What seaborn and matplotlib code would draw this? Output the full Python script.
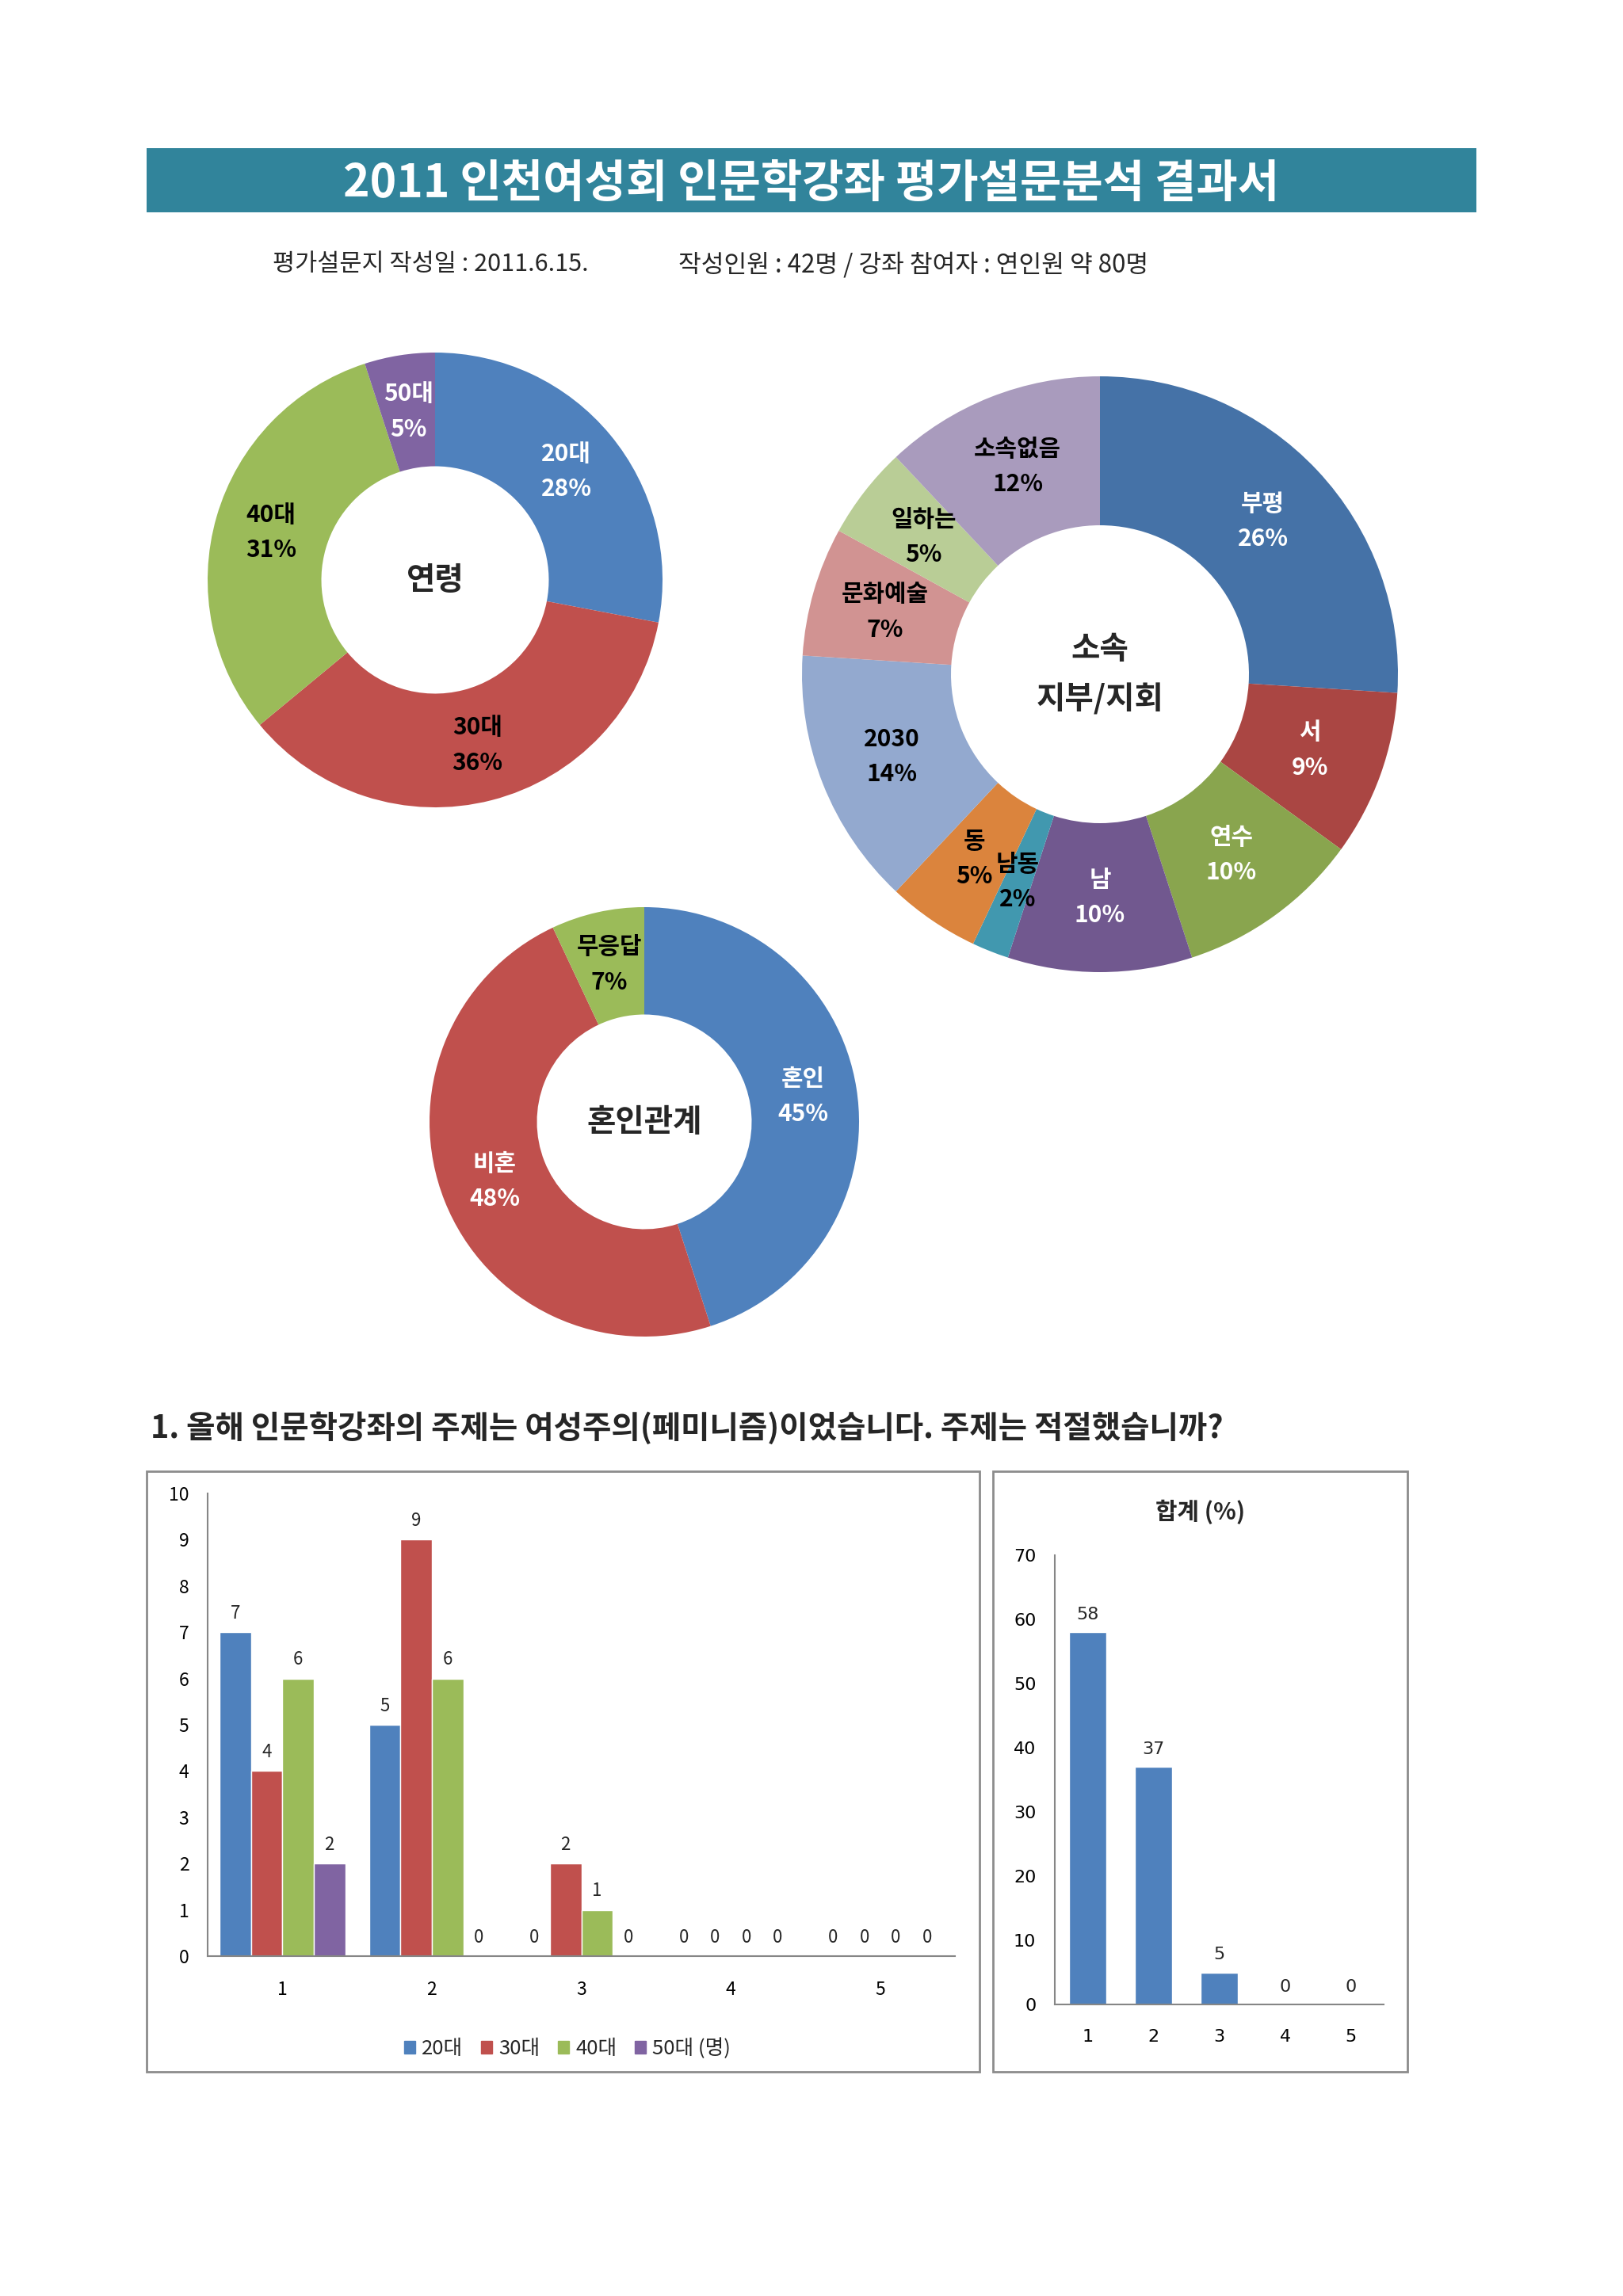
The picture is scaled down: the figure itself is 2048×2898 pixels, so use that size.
import numpy as np
import pandas as pd
import matplotlib
matplotlib.use('Agg')
import matplotlib.pyplot as plt
from matplotlib.patches import Rectangle, Patch
import seaborn as sns

# ---- data ----
age_labels = ['20대', '30대', '40대', '50대']
age_pct = [28, 36, 31, 5]
age_colors = ['#4F81BD', '#C0504D', '#9BBB59', '#8064A2']
age_txt = ['white', 'black', 'black', 'white']

branch_labels = ['부평', '서', '연수', '남', '남동', '동', '2030', '문화예술', '일하는', '소속없음']
branch_pct = [26, 9, 10, 10, 2, 5, 14, 7, 5, 12]
branch_colors = ['#4572A7', '#AA4643', '#89A54E', '#71588F', '#4198AF',
                 '#DB843D', '#93A9CF', '#D19392', '#B9CD96', '#A99BBD']
branch_txt = ['white', 'white', 'white', 'white', 'black',
              'black', 'black', 'black', 'black', 'black']

marry_labels = ['혼인', '비혼', '무응답']
marry_pct = [45, 48, 7]
marry_colors = ['#4F81BD', '#C0504D', '#9BBB59']
marry_txt = ['white', 'white', 'black']

answers = ['1', '2', '3', '4', '5']
q1_20 = [7, 5, 0, 0, 0]
q1_30 = [4, 9, 2, 0, 0]
q1_40 = [6, 6, 1, 0, 0]
q1_50 = [2, 0, 0, 0, 0]
legend_labels = ['20대', '30대', '40대', '50대 (명)']
q1_total = [58, 37, 5, 0, 0]

title = '2011 인천여성회 인문학강좌 평가설문분석 결과서'
sub1 = '평가설문지 작성일 : 2011.6.15.'
sub2 = '작성인원 : 42명 / 강좌 참여자 : 연인원 약 80명'
question = '1. 올해 인문학강좌의 주제는 여성주의(페미니즘)이었습니다. 주제는 적절했습니까?'

# ---- setup ----
sns.set_theme(style='white')
plt.rcParams['font.family'] = ['Noto Sans CJK KR', 'DejaVu Sans']
NARROW = ['Liberation Sans Narrow', 'Noto Sans CJK KR', 'DejaVu Sans']
WIDE = ['DejaVu Sans', 'Noto Sans CJK KR']

W, H = 2048, 2898
fig = plt.figure(figsize=(W / 100, H / 100), dpi=100)
fig.patch.set_facecolor('white')


def fx(px):
    return px / W


def fy(py):
    return 1 - py / H


def box(x0, y0, x1, y1):
    return [x0 / W, 1 - y1 / H, (x1 - x0) / W, (y1 - y0) / H]


# title bar
fig.add_artist(Rectangle((fx(185), fy(268)), (1863 - 185) / W, (268 - 187) / H,
                         transform=fig.transFigure, facecolor='#31849B', edgecolor='none'))
fig.text(fx(1024), fy(232), title, color='white', fontsize=41, fontweight='bold',
         ha='center', va='center')
fig.text(fx(344), fy(334), sub1, fontsize=22, ha='left', va='center')
fig.text(fx(856), fy(334), sub2, fontsize=22.5, ha='left', va='center')


# ---- donuts ----
def donut(cx, cy, r, values, labels, colors, txt_colors, center_text, lab_fs=21.5):
    ax = fig.add_axes(box(cx - r, cy - r, cx + r, cy + r))
    wedges, _ = ax.pie(values, colors=colors, startangle=90, counterclock=False,
                       radius=1, wedgeprops=dict(width=0.5, edgecolor='none'))
    ax.set_xlim(-1, 1)
    ax.set_ylim(-1, 1)
    ax.set_aspect('equal')
    ax.axis('off')
    for w, lab, v, c in zip(wedges, labels, values, txt_colors):
        ang = np.deg2rad((w.theta1 + w.theta2) / 2)
        ax.text(0.75 * np.cos(ang), 0.75 * np.sin(ang), f'{lab}\n{v}%',
                ha='center', va='center', color=c, fontsize=lab_fs,
                fontweight='bold', linespacing=1.6)
    ax.text(0, 0, center_text, ha='center', va='center', fontsize=28.5,
            fontweight='bold', linespacing=1.7)
    return ax


donut(549, 732, 287, age_pct, age_labels, age_colors, age_txt, '연령')
donut(1388, 851, 376, branch_pct, branch_labels, branch_colors, branch_txt, '소속\n지부/지회')
donut(813, 1416, 271, marry_pct, marry_labels, marry_colors, marry_txt, '혼인관계')

# ---- question heading ----
fig.text(fx(190), fy(1803), question, fontsize=28.5, fontweight='bold', ha='left', va='center')

# frames
for x0, x1 in [(185, 1236), (1253, 1776)]:
    fig.add_artist(Rectangle((fx(x0), fy(2615)), (x1 - x0) / W, (2615 - 1857) / H,
                             transform=fig.transFigure, fill=False,
                             edgecolor='#8C8C8C', lw=2))


def style_axes(ax, fam, fs):
    sns.despine(ax=ax)
    for s in ['left', 'bottom']:
        ax.spines[s].set_color('#868686')
        ax.spines[s].set_linewidth(1.5)
    ax.tick_params(length=0, labelsize=fs, colors='black')
    ax.tick_params(axis='y', pad=17)
    ax.tick_params(axis='x', pad=22)
    for t in ax.get_xticklabels() + ax.get_yticklabels():
        t.set_family(fam)
    ax.set_xlabel('')
    ax.set_ylabel('')
    ax.set_facecolor('none')


# ---- bar chart: by age ----
df = pd.DataFrame({
    '답': answers * 4,
    '연령대': np.repeat(age_labels, len(answers)),
    '명': q1_20 + q1_30 + q1_40 + q1_50,
})
ax1 = fig.add_axes(box(262, 1885, 1205, 2469))
sns.barplot(data=df, x='답', y='명', hue='연령대', palette=age_colors, width=0.84,
            saturation=1, legend=False, ax=ax1)
ax1.set_ylim(0, 10)
ax1.set_yticks(range(0, 11))
ax1.set_xlim(-0.5, 4.5)
style_axes(ax1, NARROW, 16.5)
for cont in ax1.containers:
    ax1.bar_label(cont, fmt='%d', padding=9, fontsize=16, family=NARROW)
ax1.legend(handles=[Patch(color=c) for c in age_colors], labels=legend_labels,
           loc='center', bbox_to_anchor=(fx(716), fy(2586)), bbox_transform=fig.transFigure,
           ncol=4, frameon=False, handlelength=0.55, handleheight=0.55, handletextpad=0.3,
           columnspacing=0.9, prop={'family': NARROW, 'size': 18.5})

# ---- bar chart: total % ----
tot = pd.DataFrame({'답': answers, '합계': q1_total})
ax2 = fig.add_axes(box(1331, 1963, 1746, 2530))
sns.barplot(data=tot, x='답', y='합계', color='#4F81BD', width=0.57, saturation=1, ax=ax2)
ax2.set_ylim(0, 70)
ax2.set_yticks(range(0, 71, 10))
ax2.set_xlim(-0.5, 4.5)
style_axes(ax2, WIDE, 16)
for cont in ax2.containers:
    ax2.bar_label(cont, fmt='%d', padding=9, fontsize=16, family=WIDE)
fig.text(fx(1515), fy(1908), '합계 (%)', fontsize=21.5, fontweight='bold', ha='center', va='center')

fig.savefig('out.png', dpi=100)
